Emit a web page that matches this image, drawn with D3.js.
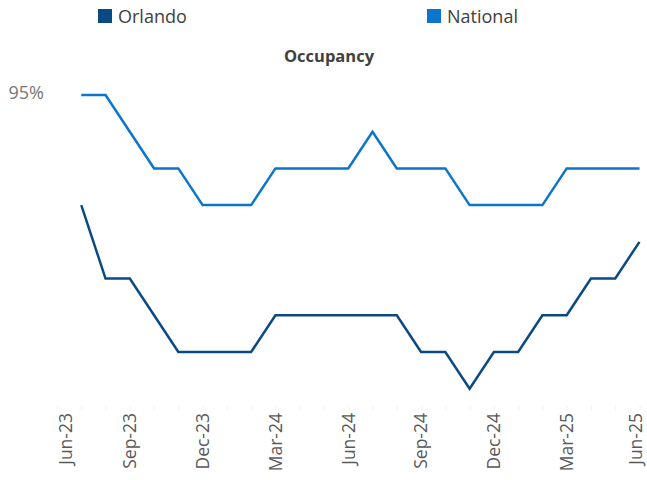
<!DOCTYPE html>
<html>
<head>
<meta charset="utf-8">
<script src="https://cdn.jsdelivr.net/npm/d3@7"></script>
<style>
  html, body { margin: 0; padding: 0; background: #fff; }
  svg { display: block; font-family: "Open Sans", sans-serif; }
</style>
</head>
<body>
<svg id="chart" width="647" height="480"></svg>
<script>
// ---- data ----
const months = ["Jun-23","Jul-23","Aug-23","Sep-23","Oct-23","Nov-23","Dec-23","Jan-24","Feb-24","Mar-24","Apr-24","May-24",
                "Jun-24","Jul-24","Aug-24","Sep-24","Oct-24","Nov-24","Dec-24","Jan-25","Feb-25","Mar-25","Apr-25","May-25","Jun-25"];
const dataMonths = months.slice(1);
const orlando  = [92,90,90,89,88,88,88,88,89,89,89,89,89,89,88,88,87,88,88,89,89,90,90,91];
const national = [95,95,94,93,93,92,92,92,93,93,93,93,94,93,93,93,92,92,92,92,93,93,93,93];
const tickLabels = ["Jun-23","Sep-23","Dec-23","Mar-24","Jun-24","Sep-24","Dec-24","Mar-25","Jun-25"];
const yTickValues = [95];
const seriesNames = ["Orlando","National"];
const seriesColors = ["#0a4a84","#0b74cd"];

// ---- layout ----
const svg = d3.select("#chart");
const x = d3.scalePoint().domain(months).range([57, 639.5]);
const y = d3.scaleLinear().domain([86.5, 95]).range([407, 95]);

// title
svg.append("text").attr("x", 329).attr("y", 62).attr("text-anchor", "middle")
  .attr("font-size", 16.5).attr("font-weight", "bold").attr("fill", "#404040").text("Occupancy");

// legend
const legendX = [98, 427];
seriesNames.forEach((n, i) => {
  const g = svg.append("g").attr("transform", `translate(${legendX[i]},9)`);
  g.append("rect").attr("width", 14).attr("height", 14).attr("fill", seriesColors[i]);
  g.append("text").attr("x", 20).attr("y", 14).attr("font-size", 18).attr("fill", "#404040").text(n);
});

// y axis label(s)
svg.append("g").selectAll("text").data(yTickValues).join("text")
  .attr("x", 44).attr("y", d => y(d)).attr("dy", "0.22em").attr("text-anchor", "end")
  .attr("font-size", 18).attr("fill", "#767676").text(d => d + "%");

// x axis ticks
const xAxis = d3.axisBottom(x).tickSize(4).tickFormat("");
const ax = svg.append("g").attr("transform", "translate(0,406)").call(xAxis);
ax.select(".domain").remove();
ax.selectAll(".tick line").attr("stroke", "#f0f0f0");

// x labels rotated (edge labels nudged inward so they are not clipped)
const labelX = d => Math.min(Math.max(x(d), 66), 636);
svg.append("g").selectAll("text").data(tickLabels).join("text")
  .attr("transform", d => `translate(${labelX(d)},413) rotate(-90)`)
  .attr("text-anchor", "end").attr("dy", "0.36em")
  .attr("font-size", 17.5).attr("fill", "#595959").text(d => d);

// lines
const line = d3.line().x((d, i) => x(dataMonths[i])).y(d => y(d));
[orlando, national].forEach((s, i) => {
  svg.append("path").datum(s).attr("d", line).attr("fill", "none")
    .attr("stroke", seriesColors[i]).attr("stroke-width", 2.5).attr("stroke-linejoin", "miter");
});
</script>
</body>
</html>
